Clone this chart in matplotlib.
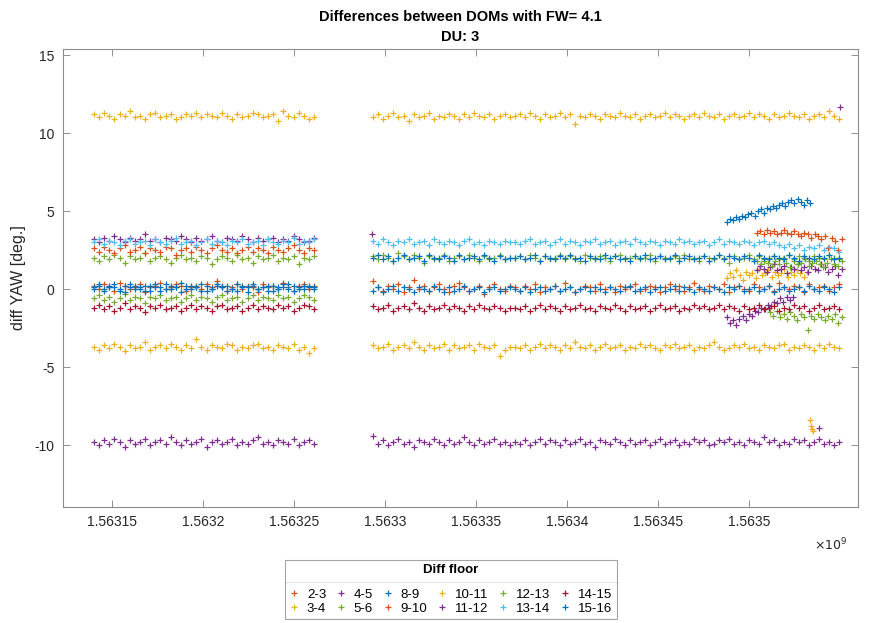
import numpy as np
import matplotlib
matplotlib.use('Agg')
import matplotlib.pyplot as plt
from matplotlib.ticker import FixedLocator, FuncFormatter
from matplotlib.lines import Line2D

plt.rcParams['font.family'] = ['Liberation Sans', 'DejaVu Sans']
plt.rcParams['axes.unicode_minus'] = False

# ---------------- time spans of the recorded segments (s) ----------------
SEG1 = (1.563140e9, 1.563261e9)
SEG2 = (1.5632935e9, 1.5633685e9)
SEG3 = (1.5633715e9, 1.5635495e9)
T_PURPLE_START = (1.5632929e9, 1.5632929e9)
T_BLUE_RISE = (1.5634879e9, 1.5635335e9)
T_ORANGE_LATE = (1.5635044e9, 1.5635511e9)
T_YELLOW_LATE = (1.5634879e9, 1.5635319e9)
T_YELLOW_LOW = (1.5635335e9, 1.5635352e9)
T_PURPLE_LOW = (1.5635385e9, 1.5635385e9)
T_PURPLE_RISE = (1.5634879e9, 1.5635242e9)
T_PURPLE_MID = (1.5635044e9, 1.5635511e9)
T_PURPLE_TOP = (1.5635500e9, 1.5635500e9)
T_GREEN_LOW = (1.5635115e9, 1.5635511e9)
T_GREEN_MID = (1.5635044e9, 1.5635511e9)

LABELS = ['2-3', '3-4', '4-5', '5-6', '8-9', '9-10', '10-11', '11-12',
          '12-13', '13-14', '14-15', '15-16']
COLORS = ['#D95319', '#EDB120', '#7E2F8E', '#77AC30', '#0072BD', '#D95319',
          '#EDB120', '#7E2F8E', '#77AC30', '#4DBEEE', '#A2142F', '#0072BD']

XTICKS = [1.56315e9, 1.5632e9, 1.56325e9, 1.5633e9, 1.56335e9, 1.5634e9, 1.56345e9, 1.5635e9]
YTICKS = [-10, -5, 0, 5, 10, 15]

# ---------------- values (deg.) ----------------
D23_S1 = [0.2,0.0,0.3,0.1,-0.1,0.4,0.2,0.0,0.1,0.3,-0.2,0.1,0.2,0.4,0.0,0.1,0.3,0.2,-0.1,0.1,0.2,0.0,0.3,0.1,0.5,0.2,-0.1,0.1,0.3,0.0,0.2,0.1,-0.2,0.3,0.1,0.2,0.0,0.4,0.1,-0.1,0.2,0.3,0.0,0.2]
D23_S2 = [0.5,0.1,-0.1,0.2,0.0,0.3,-0.2,0.1,0.6,0.0,0.2,-0.1,0.1,0.3,0.0,-0.2,0.2,0.4,0.1,-0.1,0.0,0.2,-0.3,0.1,0.3,0.0,-0.1,0.2]
D23_S3 = [0.1,-0.1,0.2,0.0,0.3,-0.2,0.1,0.0,0.2,-0.1,0.4,0.1,-0.2,0.0,0.2,0.1,-0.1,0.3,0.0,0.1,-0.2,0.2,0.0,0.1,0.3,-0.1,0.0,0.2,0.1,-0.2,0.1,0.3,0.0,0.2,-0.1,0.1,0.4,0.0,-0.1,0.2,0.1,0.0,0.3,-0.2,0.1,0.2,0.0,-0.1,0.3,0.1,0.0,0.2,-0.1,0.4,0.1,0.0,0.2,0.1,-0.2,0.3,0.0,0.1,0.2,-0.1,0.1,0.3]

D34_S1 = [-3.7,-3.9,-3.6,-3.8,-3.5,-3.7,-4.0,-3.6,-3.8,-3.7,-3.4,-3.9,-3.7,-3.6,-3.8,-3.5,-3.7,-3.9,-3.6,-3.8,-3.2,-3.7,-3.9,-3.6,-3.7,-3.8,-3.5,-3.6,-3.9,-3.7,-3.8,-3.6,-3.5,-3.8,-3.7,-3.9,-3.6,-3.7,-3.8,-3.5,-3.9,-3.7,-4.1,-3.8]
D34_S2 = [-3.6,-3.8,-3.7,-3.5,-3.9,-3.7,-3.6,-3.8,-3.4,-3.7,-3.9,-3.6,-3.8,-3.7,-3.5,-3.9,-3.6,-3.8,-3.7,-3.6,-3.9,-3.5,-3.7,-3.8,-3.6,-4.3,-3.9,-3.7]
D34_S3 = [-3.7,-3.8,-3.6,-3.9,-3.7,-3.5,-3.8,-3.6,-3.7,-3.9,-3.6,-3.8,-3.4,-3.7,-3.8,-3.6,-3.9,-3.7,-3.5,-3.8,-3.7,-3.6,-3.9,-3.7,-3.8,-3.5,-3.7,-3.6,-3.8,-3.9,-3.6,-3.7,-3.5,-3.8,-3.7,-3.6,-3.9,-3.7,-3.8,-3.6,-3.4,-3.7,-3.9,-3.8,-3.6,-3.7,-3.5,-3.8,-3.7,-3.9,-3.6,-3.7,-3.8,-3.6,-3.5,-3.9,-3.7,-3.8,-3.6,-3.7,-3.9,-3.6,-3.8,-3.5,-3.7,-3.8]
D34_LATE = [0.7,1.0,0.8,1.2,0.9,0.6,1.1,0.9,1.0,0.7,1.3,0.9,1.0,1.2,0.8,1.1,0.9,1.0,1.3,0.8,1.1,0.9,1.2,1.0,0.8,1.1]
D34_LOW = [-8.4,-8.8,-9.0,-9.1]

D45_S1 = [-9.8,-10.0,-9.7,-9.9,-9.6,-9.8,-10.1,-9.7,-9.9,-9.8,-9.6,-10.0,-9.8,-9.7,-9.9,-9.5,-9.8,-10.0,-9.7,-9.9,-9.8,-9.6,-10.1,-9.8,-9.7,-9.9,-9.8,-9.6,-10.0,-9.8,-9.9,-9.7,-9.5,-9.9,-9.8,-10.0,-9.7,-9.8,-9.9,-9.6,-10.0,-9.8,-9.7,-9.9]
D45_S2 = [-9.4,-9.9,-9.7,-10.0,-9.8,-9.6,-9.9,-9.8,-10.1,-9.7,-9.8,-9.9,-9.6,-9.8,-10.0,-9.7,-9.9,-9.8,-9.5,-9.8,-10.0,-9.7,-9.9,-9.8,-9.6,-9.9,-9.8,-10.0]
D45_S3 = [-9.8,-9.9,-9.7,-10.0,-9.8,-9.6,-9.9,-9.7,-9.8,-10.0,-9.7,-9.9,-9.8,-9.6,-9.9,-9.8,-10.1,-9.7,-9.8,-9.9,-9.6,-9.8,-10.0,-9.7,-9.9,-9.8,-9.7,-10.0,-9.8,-9.6,-9.9,-9.8,-9.7,-10.0,-9.8,-9.9,-9.6,-9.8,-9.7,-10.0,-9.9,-9.7,-9.8,-9.6,-9.9,-9.8,-10.0,-9.7,-9.8,-9.9,-9.5,-9.8,-9.7,-10.0,-9.8,-9.9,-9.6,-9.8,-9.7,-10.0,-9.8,-9.6,-9.9,-9.8,-10.0,-9.8]
D45_LOW = [-8.9]

D56_S1 = [2.0,1.8,2.1,1.9,2.2,2.0,1.7,2.1,1.9,2.0,2.3,1.8,2.0,2.1,1.9,1.7,2.0,2.2,1.9,2.0,1.8,2.1,2.0,1.6,1.9,2.1,2.0,1.8,2.2,1.9,2.0,1.7,2.1,1.9,2.0,2.2,1.8,2.0,1.9,2.1,1.6,2.0,1.9,2.1]
D56_S2 = [2.1,1.9,2.2,2.0,1.8,2.3,2.1,1.9,2.2,2.0,1.7,2.1,1.9,2.0,2.2,1.8,2.0,2.1,1.9,2.2,2.0,1.8,2.1,1.9,2.0,2.2,1.9,2.0]
D56_S3 = [2.0,2.1,1.9,2.2,2.0,1.8,2.1,1.9,2.0,2.2,1.9,2.1,2.0,1.8,2.2,2.0,1.9,2.1,2.0,1.8,2.1,2.2,1.9,2.0,2.1,1.9,2.0,2.2,1.8,2.1,2.0,1.9,2.1,2.0,2.2,1.9,2.0,1.8,2.1,2.0,1.9,2.2,2.0,1.7,2.1,1.9,2.0,2.2,1.9,2.1,1.8,2.0,2.1,1.9,2.0,2.2,1.9,2.1,2.0,1.8,2.1,2.0,1.9,2.2,2.0,1.9]

D89_S1 = [0.1,0.3,0.0,0.2,0.1,-0.1,0.2,0.3,0.0,0.1,0.2,-0.1,0.3,0.1,0.0,0.2,0.1,0.4,0.0,0.2,0.1,-0.1,0.2,0.0,0.3,0.1,0.2,0.0,-0.1,0.2,0.1,0.3,0.0,0.1,0.2,-0.1,0.1,0.3,0.0,0.2,0.1,0.0,0.2,0.1]
D89_S2 = [-0.1,0.1,-0.2,0.0,0.2,-0.1,0.1,0.0,-0.2,0.1,0.0,-0.1,0.2,0.0,-0.2,0.1,-0.1,0.0,0.2,-0.1,0.0,0.1,-0.2,0.0,0.1,-0.1,0.0,0.1]
D89_S3 = [0.0,-0.1,0.1,-0.2,0.0,0.1,-0.1,0.0,0.2,-0.1,0.0,0.1,-0.2,0.0,0.1,-0.1,0.1,0.0,-0.2,0.1,0.0,-0.1,0.1,0.2,-0.1,0.0,0.1,-0.2,0.0,0.1,-0.1,0.0,0.2,-0.1,0.1,0.0,-0.2,0.1,0.0,-0.1,0.1,0.0,-0.2,0.1,0.0,0.2,-0.1,0.0,0.1,-0.1,0.0,0.2,-0.2,0.0,0.1,-0.1,0.0,0.1,-0.1,0.2,0.0,-0.1,0.1,0.0,-0.2,0.1]

D910_S1 = [2.6,2.4,2.7,2.5,2.3,2.6,2.8,2.4,2.5,2.7,2.3,2.6,2.5,2.4,2.7,2.6,2.2,2.5,2.6,2.4,2.7,2.5,2.3,2.6,2.8,2.5,2.4,2.6,2.3,2.5,2.7,2.4,2.6,2.5,2.3,2.7,2.5,2.4,2.6,2.8,2.5,2.3,2.6,2.5]
D910_LATE = [3.6,3.7,3.5,3.8,3.6,3.7,3.5,3.6,3.8,3.6,3.5,3.7,3.5,3.4,3.6,3.5,3.3,3.5,3.4,3.2,3.4,2.6,3.3,3.1,2.5,3.2]

D1011_S1 = [11.2,11.0,11.3,11.1,10.9,11.2,11.1,11.4,11.0,11.1,10.9,11.2,11.3,11.0,11.1,11.2,10.9,11.0,11.2,11.1,11.3,11.0,11.2,11.1,11.0,11.3,11.1,10.9,11.2,11.0,11.1,11.3,11.2,11.0,11.1,11.2,10.8,11.4,11.1,11.0,11.3,11.1,10.9,11.0]
D1011_S2 = [11.0,11.2,10.9,11.1,11.3,11.0,11.1,10.8,11.2,11.0,11.1,11.3,10.9,11.1,11.0,11.2,11.1,10.9,11.2,11.0,11.3,11.1,11.0,11.2,10.9,11.1,11.2,11.0]
D1011_S3 = [11.1,11.2,11.0,11.3,11.1,10.9,11.2,11.0,11.1,11.3,11.0,11.2,10.6,11.1,11.0,11.2,11.1,10.9,11.2,11.1,11.0,11.3,11.1,11.0,11.2,10.9,11.1,11.2,11.0,11.1,11.3,11.0,11.2,11.1,10.9,11.1,11.2,11.0,11.3,11.1,11.0,11.2,10.9,11.1,11.2,11.0,11.1,11.3,11.0,11.2,11.1,10.9,11.2,11.0,11.1,11.3,11.1,11.0,11.2,10.9,11.1,11.2,11.0,11.4,11.1,10.9]

D1112_S1 = [3.2,3.0,3.3,3.1,3.4,3.2,3.0,3.3,3.1,3.2,3.5,3.1,3.2,3.0,3.3,3.2,3.1,3.4,3.2,3.0,3.3,3.1,3.2,3.4,3.1,3.0,3.3,3.2,3.1,3.4,3.2,3.0,3.3,3.1,3.2,3.3,3.0,3.2,3.1,3.4,3.2,3.0,3.1,3.3]
D1112_START = [3.5]
D1112_RISE = [-1.8,-2.2,-2.0,-2.3,-1.9,-1.7,-2.0,-1.6,-1.7,-1.4,-1.5,-1.2,-1.3,-1.0,-1.1,-0.8,-0.9,-0.6,-0.8,-0.5,-0.7,-0.5]
D1112_MID = [1.2,1.5,1.3,1.1,1.4,1.6,1.2,1.3,1.5,1.0,1.4,1.3,1.6,1.2,1.4,1.1,1.5,1.3,1.2,1.6,1.4,1.1,1.3,1.5,0.9,1.3]
D1112_TOP = [11.7]

D1213_S1 = [-0.6,-0.4,-0.7,-0.5,-0.8,-0.6,-0.3,-0.7,-0.5,-0.6,-0.9,-0.5,-0.6,-0.4,-0.7,-0.6,-0.5,-0.8,-0.6,-0.4,-0.7,-0.5,-0.6,-0.8,-0.5,-0.4,-0.7,-0.6,-0.5,-0.8,-0.6,-0.4,-0.7,-0.5,-0.6,-0.7,-0.4,-0.6,-0.5,-0.8,-0.6,-0.4,-0.5,-0.7]
D1213_LOW = [-1.5,-1.7,-1.4,-1.8,-1.6,-1.9,-1.5,-1.7,-2.0,-1.6,-1.8,-2.6,-1.7,-1.9,-1.6,-1.8,-2.0,-1.7,-1.9,-1.6,-2.2,-1.8]
D1213_MID = [1.8,1.6,1.9,1.7,1.5,1.8,1.6,1.9,1.7,1.4,1.8,1.6,1.7,1.9,1.5,1.7,1.8,1.6,1.4,1.7,1.9,1.6,1.5,1.8]

D1314_S1 = [3.0,3.2,2.9,3.1,3.0,2.8,3.1,3.2,2.9,3.0,3.1,2.8,3.2,3.0,2.9,3.1,3.3,2.9,3.0,3.1,2.8,3.0,3.2,2.9,3.1,3.0,2.8,3.1,3.0,3.2,2.9,3.0,3.1,2.8,3.2,3.0,2.9,3.1,3.0,3.3,2.9,3.1,3.0,3.2]
D1314_S2 = [3.1,2.9,3.2,3.0,2.8,3.1,3.0,3.2,2.9,3.0,3.1,2.8,3.2,3.0,2.9,3.1,3.0,2.8,3.1,3.2,2.9,3.0,2.8,3.1,3.0,2.9,3.1,3.0]
D1314_S3 = [3.0,2.9,3.1,3.2,2.9,3.0,3.1,2.8,3.0,3.2,2.9,3.1,3.0,2.8,3.1,3.0,3.2,2.9,3.0,3.1,2.8,3.0,3.1,2.9,3.2,3.0,2.9,3.1,3.0,2.8,3.1,3.0,2.9,3.2,3.0,3.1,2.9,3.0,3.1,2.8,3.0,3.2,2.9,3.1,3.0,2.9,3.1,3.0,2.8,3.0,3.1,2.9,3.0,2.8,2.7,2.9,2.6,2.8,2.5,2.7,2.6,2.8,2.5,2.7,2.6,2.4]

D1415_S1 = [-1.2,-1.0,-1.3,-1.1,-1.4,-1.2,-0.9,-1.3,-1.1,-1.2,-1.5,-1.1,-1.2,-1.0,-1.3,-1.2,-1.1,-1.4,-1.2,-1.0,-1.3,-1.1,-1.2,-1.4,-1.1,-1.0,-1.3,-1.2,-1.1,-1.4,-1.2,-1.0,-1.3,-1.1,-1.2,-1.3,-1.0,-1.2,-1.1,-1.4,-1.2,-1.0,-1.1,-1.3]
D1415_S2 = [-1.1,-1.3,-1.2,-1.0,-1.4,-1.2,-1.1,-1.3,-0.9,-1.2,-1.4,-1.1,-1.3,-1.2,-1.0,-1.3,-1.1,-1.2,-1.4,-1.1,-1.3,-1.0,-1.2,-1.3,-1.1,-1.2,-1.4,-1.2]
D1415_S3 = [-1.2,-1.3,-1.1,-1.4,-1.2,-1.0,-1.3,-1.1,-1.2,-1.4,-1.1,-1.3,-1.2,-1.0,-1.3,-1.2,-1.4,-1.1,-1.2,-1.3,-1.0,-1.2,-1.4,-1.1,-1.3,-1.2,-1.1,-1.4,-1.2,-1.0,-1.3,-1.2,-1.1,-1.4,-1.2,-1.3,-1.0,-1.2,-1.1,-1.3,-1.2,-1.0,-1.3,-1.1,-1.2,-1.4,-1.1,-1.3,-1.2,-1.0,-1.3,-1.2,-1.1,-1.4,-1.2,-1.3,-1.0,-1.2,-1.1,-1.4,-1.2,-1.0,-1.3,-1.2,-1.1,-1.3]

D1516_S1 = [0.0,0.2,-0.1,0.1,0.3,0.0,-0.2,0.1,0.2,0.0,-0.1,0.2,0.1,-0.1,0.3,0.0,0.1,-0.2,0.2,0.0,0.1,0.3,-0.1,0.0,0.2,0.1,-0.1,0.0,0.3,0.1,-0.2,0.2,0.0,0.1,-0.1,0.2,0.0,0.1,0.3,-0.1,0.0,0.2,0.1,0.0]
D1516_S2 = [2.0,2.2,1.9,2.1,1.8,2.0,2.2,1.9,2.0,2.1,1.8,2.2,2.0,1.9,2.1,2.0,1.8,2.2,1.9,2.0,2.1,1.9,2.2,2.0,1.8,2.1,1.9,2.0]
D1516_S3 = [2.0,2.1,1.9,2.0,2.2,1.8,2.1,2.0,1.9,2.1,2.0,2.2,1.9,2.0,1.8,2.1,2.0,1.9,2.2,2.0,2.1,1.9,2.0,1.8,2.1,2.0,2.2,1.9,2.0,2.1,1.9,2.0,2.2,1.8,2.0,2.1,1.9,2.0,2.1,1.8,2.0,2.2,1.9,2.1,2.0,1.9,2.1,2.0,1.8,2.2,2.0,1.9,2.1,2.0,1.9,2.2,2.0,1.8,2.1,2.0,1.9,2.1,2.0,2.2,1.9,2.0]
D1516_RISE = [4.3,4.5,4.4,4.6,4.5,4.7,4.6,4.8,4.9,4.7,5.0,5.1,4.9,5.2,5.1,5.3,5.2,5.4,5.5,5.3,5.6,5.7,5.5,5.8,5.6,5.4,5.7,5.5]

PIECES = {
    '2-3': [(SEG1, D23_S1), (SEG2, D23_S2), (SEG3, D23_S3)],
    '3-4': [(SEG1, D34_S1), (SEG2, D34_S2), (SEG3, D34_S3), (T_YELLOW_LATE, D34_LATE), (T_YELLOW_LOW, D34_LOW)],
    '4-5': [(SEG1, D45_S1), (SEG2, D45_S2), (SEG3, D45_S3), (T_PURPLE_LOW, D45_LOW)],
    '5-6': [(SEG1, D56_S1), (SEG2, D56_S2), (SEG3, D56_S3)],
    '8-9': [(SEG1, D89_S1), (SEG2, D89_S2), (SEG3, D89_S3)],
    '9-10': [(SEG1, D910_S1), (T_ORANGE_LATE, D910_LATE)],
    '10-11': [(SEG1, D1011_S1), (SEG2, D1011_S2), (SEG3, D1011_S3)],
    '11-12': [(SEG1, D1112_S1), (T_PURPLE_START, D1112_START), (T_PURPLE_RISE, D1112_RISE),
              (T_PURPLE_MID, D1112_MID), (T_PURPLE_TOP, D1112_TOP)],
    '12-13': [(SEG1, D1213_S1), (T_GREEN_LOW, D1213_LOW), (T_GREEN_MID, D1213_MID)],
    '13-14': [(SEG1, D1314_S1), (SEG2, D1314_S2), (SEG3, D1314_S3)],
    '14-15': [(SEG1, D1415_S1), (SEG2, D1415_S2), (SEG3, D1415_S3)],
    '15-16': [(SEG1, D1516_S1), (SEG2, D1516_S2), (SEG3, D1516_S3), (T_BLUE_RISE, D1516_RISE)],
}

fig = plt.figure(figsize=(8.75, 6.23), dpi=100)
ax = fig.add_axes([0.072, 0.1862, 0.9086, 0.7351])

for lab, col in zip(LABELS, COLORS):
    ts, vs = [], []
    for (t0, t1), vals in PIECES[lab]:
        ts.append(np.linspace(t0, t1, len(vals)))
        vs.append(np.asarray(vals, dtype=float))
    ax.plot(np.concatenate(ts), np.concatenate(vs), linestyle='none', marker='+',
            markersize=4.8, markeredgewidth=0.9, color=col, label=lab)

ax.set_xlim(1.563123e9, 1.56356e9)
ax.set_ylim(-13.97, 15.385)
ax.xaxis.set_major_locator(FixedLocator(XTICKS))
ax.xaxis.set_major_formatter(FuncFormatter(lambda v, p: f"{v/1e9:g}"))
ax.yaxis.set_major_locator(FixedLocator(YTICKS))
ax.tick_params(direction='in', top=True, right=True, length=5, width=0.6,
               color='#7f7f7f', labelsize=10, labelcolor='#262626', pad=6)
for sp in ax.spines.values():
    sp.set_color('#8c8c8c')
    sp.set_linewidth(0.8)

ax.set_ylabel('diff YAW [deg.]', fontsize=11.5, color='#262626', labelpad=6)
ax.set_title('Differences between DOMs with FW= 4.1\nDU: 3', fontsize=10.5,
             fontweight='bold', linespacing=1.55, pad=6)
fig.text(0.969, 0.125, r'$\times10^{9}$', ha='right', va='center', fontsize=9, color='#262626')

leg = fig.legend(loc='upper center', bbox_to_anchor=(0.5149, 0.1011),
                 bbox_transform=fig.transFigure, ncol=6, title='Diff floor',
                 fontsize=9.5, title_fontsize=9.5, frameon=True, fancybox=False,
                 edgecolor='#8c8c8c', handlelength=0.8, handletextpad=0.6,
                 columnspacing=0.7, borderpad=0.3, labelspacing=0.15,
                 borderaxespad=0)
leg.get_title().set_fontweight('bold')
leg.get_frame().set_linewidth(0.8)
leg._legend_box.sep = 9

fig.canvas.draw()
r = fig.canvas.get_renderer()
lb = leg.get_window_extent(r)
tb = leg.get_title().get_window_extent(r)
hb = leg._legend_handle_box.get_window_extent(r)
ysep = 0.5 * (tb.y0 + hb.y1) / fig.bbox.height
fig.add_artist(Line2D([lb.x0 / fig.bbox.width, lb.x1 / fig.bbox.width], [ysep, ysep],
                      transform=fig.transFigure, color='#8c8c8c', linewidth=0.8))

fig.savefig('out.png', dpi=100)
